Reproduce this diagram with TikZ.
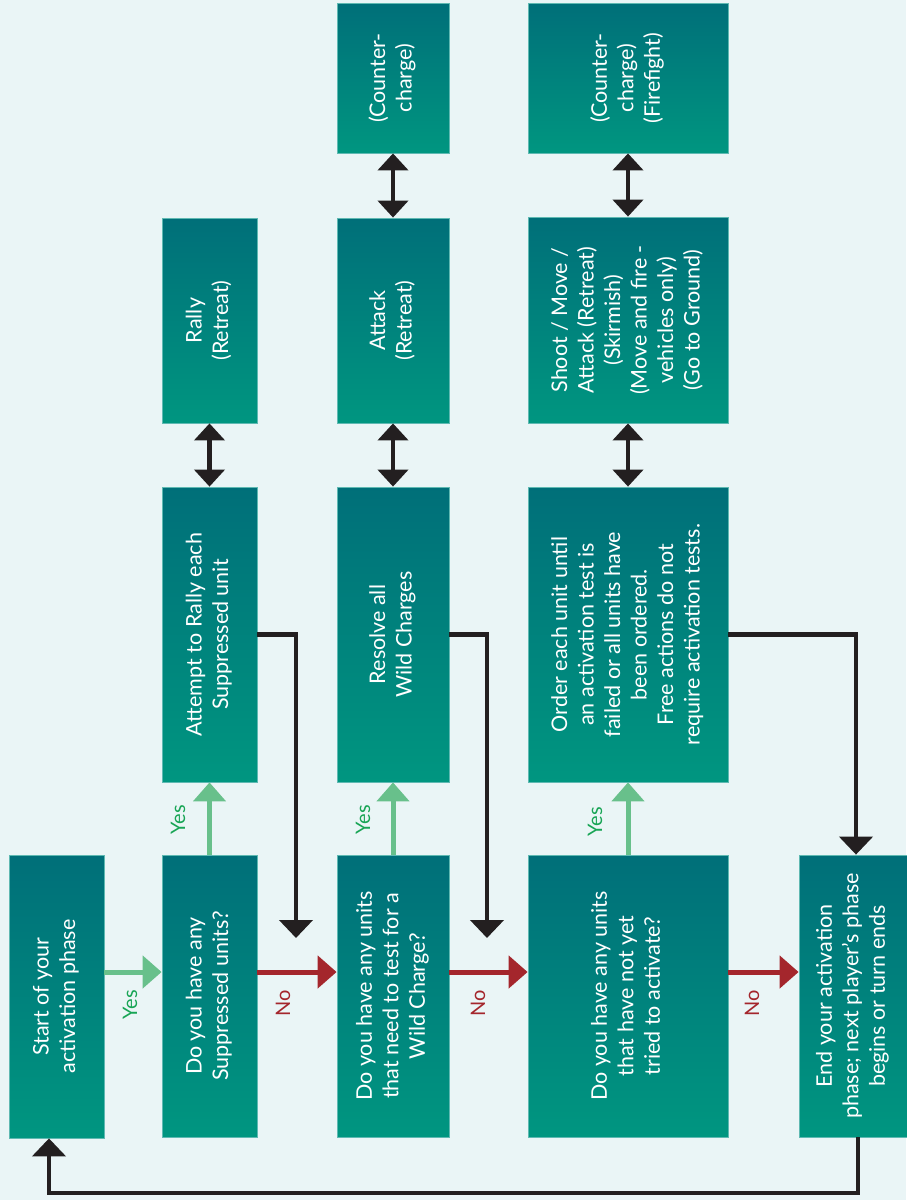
\documentclass[tikz,border=0pt]{standalone}
\usepackage{fontspec}
\setmainfont{Lato}
\usepackage{graphicx}
\usetikzlibrary{arrows.meta, positioning, calc}
\definecolor{boxtop}{RGB}{0,111,121}
\definecolor{boxbot}{RGB}{0,150,128}
\definecolor{boxedge}{RGB}{95,185,178}
\definecolor{paper}{RGB}{234,245,246}
\definecolor{yesgreen}{RGB}{104,192,139}
\definecolor{yestext}{RGB}{24,165,85}
\definecolor{nored}{RGB}{164,38,44}
\definecolor{inkblack}{RGB}{35,31,32}
\newcommand{\sidetext}[1]{\rotatebox{90}{\begin{tabular}{@{}c@{}}#1\end{tabular}}}

\begin{document}
\begin{tikzpicture}[x=1pt, y=-1pt,
  stage/.style={draw=boxedge, line width=0.8pt, top color=boxtop, bottom color=boxbot,
    text=white, inner sep=0pt, font=\fontsize{21.5}{26.5}\selectfont},
  yesarrow/.style={draw=yesgreen, line width=5pt, -{Triangle[width=32pt,length=19pt]}},
  noarrow/.style={draw=nored, line width=5pt, -{Triangle[width=32pt,length=19pt]}},
  flowarrow/.style={draw=inkblack, line width=4.5pt, -{Triangle[width=33pt,length=18pt]}},
  linkarrow/.style={draw=inkblack, line width=4.5pt,
    {Triangle[width=30pt,length=17pt]}-{Triangle[width=30pt,length=17pt]}},
  yeslabel/.style={text=yestext, rotate=90, font=\fontsize{20}{20}\selectfont},
  nolabel/.style={text=nored, rotate=90, font=\fontsize{20}{20}\selectfont}]

  \fill[paper] (0,0) rectangle (906,1200);
  \useasboundingbox (0,0) rectangle (906,1200);

  % bottom row: the questions
  \node[stage, minimum width=95pt, minimum height=283pt] (start) at (56.5,996.5)
    {\sidetext{Start of your\\activation phase}};
  \node[stage, minimum width=95pt, minimum height=282pt] (supq) at (209.5,996)
    {\sidetext{Do you have any\\Suppressed units?}};
  \node[stage, minimum width=112pt, minimum height=282pt] (wildq) at (393,996)
    {\sidetext{Do you have any units\\that need to test for a\\Wild Charge?}};
  \node[stage, minimum width=200pt, minimum height=282pt] (actq) at (628,996)
    {\sidetext{Do you have any units\\that have not yet\\tried to activate?}};
  \node[stage, minimum width=108pt, minimum height=282pt] (endbox) at (853,996)
    {\sidetext{End your activation\\phase; next player’s phase\\begins or turn ends}};

  % middle row
  \node[stage, minimum width=95pt, minimum height=295pt] (attempt) at (209.5,634.5)
    {\sidetext{Attempt to Rally each\\Suppressed unit}};
  \node[stage, minimum width=112pt, minimum height=295pt] (resolve) at (393,634.5)
    {\sidetext{Resolve all\\Wild Charges}};
  \node[stage, minimum width=200pt, minimum height=295pt] (order) at (628,634.5)
    {\sidetext{Order each unit until\\an activation test is\\failed or all units have\\been ordered.\\Free actions do not\\require activation tests.}};

  % top rows: orders
  \node[stage, minimum width=95pt, minimum height=205pt] (rally) at (209.5,320.5)
    {\sidetext{Rally\\(Retreat)}};
  \node[stage, minimum width=112pt, minimum height=205pt] (attack) at (393,320.5)
    {\sidetext{Attack\\(Retreat)}};
  \node[stage, minimum width=200pt, minimum height=206pt] (shoot) at (628,320)
    {\sidetext{Shoot / Move /\\Attack (Retreat)\\(Skirmish)\\(Move and fire -\\vehicles only)\\(Go to Ground)}};
  \node[stage, minimum width=112pt, minimum height=150pt] (counterA) at (393,78)
    {\sidetext{(Counter-\\charge)}};
  \node[stage, minimum width=200pt, minimum height=150pt] (counterB) at (628,78)
    {\sidetext{(Counter-\\charge)\\(Firefight)}};

  \coordinate (arow) at (0,972);
  \coordinate (dropA) at (296,938);
  \coordinate (dropB) at (487,938);
  \coordinate (loop) at (49,1193);

  % yes / no
  \draw[yesarrow] (start.east |- arow) -- (supq.west |- arow);
  \draw[noarrow] (supq.east |- arow) -- (wildq.west |- arow);
  \draw[noarrow] (wildq.east |- arow) -- (actq.west |- arow);
  \draw[noarrow] (actq.east |- arow) -- (endbox.west |- arow);
  \draw[yesarrow] (supq.north) -- (attempt.south);
  \draw[yesarrow] (wildq.north) -- (resolve.south);
  \draw[yesarrow] (actq.north) -- (order.south);

  \node[yeslabel] (yesA) at (130,1005) {Yes};
  \node[yeslabel] (yesB) at (178,820) {Yes};
  \node[yeslabel] (yesC) at (363,820) {Yes};
  \node[yeslabel] (yesD) at (595,822) {Yes};
  \node[nolabel] (noA) at (283,1003) {No};
  \node[nolabel] (noB) at (478,1003) {No};
  \node[nolabel] (noC) at (752,1003) {No};

  % returns
  \draw[flowarrow] (attempt.east) -| (dropA);
  \draw[flowarrow] (resolve.east) -| (dropB);
  \draw[flowarrow] (order.east) -| ([xshift=3pt]endbox.north);
  \draw[flowarrow] ([xshift=5pt]endbox.south) |- (loop) -- (start.south -| loop);

  % order options
  \draw[linkarrow] (attempt.north) -- (rally.south);
  \draw[linkarrow] (resolve.north) -- (attack.south);
  \draw[linkarrow] (order.north) -- (shoot.south);
  \draw[linkarrow] (attack.north) -- (counterA.south);
  \draw[linkarrow] (shoot.north) -- (counterB.south);
\end{tikzpicture}
\end{document}
